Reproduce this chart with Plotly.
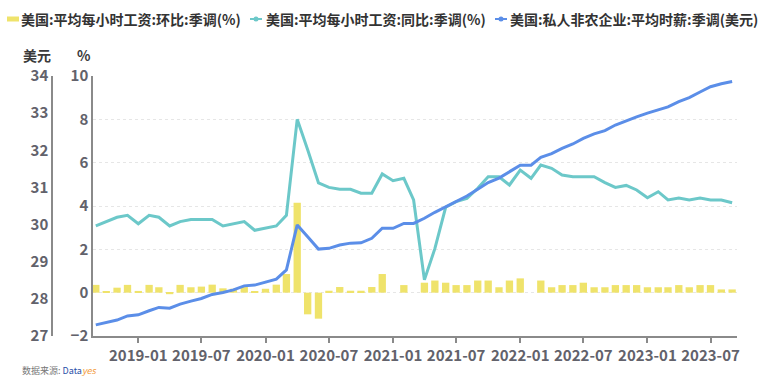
import pandas as pd
import plotly.graph_objects as go

months = pd.date_range("2018-09-01", periods=61, freq="MS")

mom = [0.36, 0.05, 0.23, 0.36, 0.08, 0.36, 0.25, -0.07, 0.36, 0.25,
       0.28, 0.37, 0.20, 0.18, 0.29, 0.06, 0.18, 0.37, 0.86, 4.15,
       -1.00, -1.20, 0.09, 0.26, 0.09, 0.09, 0.26, 0.86, 0.00, 0.35,
       0.00, 0.46, 0.56, 0.46, 0.35, 0.35, 0.56, 0.56, 0.25, 0.56,
       0.66, 0.00, 0.56, 0.25, 0.35, 0.35, 0.46, 0.25, 0.25, 0.35,
       0.35, 0.35, 0.25, 0.25, 0.25, 0.35, 0.25, 0.35, 0.35, 0.15,
       0.15]

yoy = [3.08, 3.28, 3.48, 3.57, 3.18, 3.57, 3.48, 3.08, 3.28, 3.38,
       3.38, 3.38, 3.08, 3.18, 3.28, 2.88, 2.97, 3.08, 3.57, 8.00,
       6.60, 5.07, 4.86, 4.77, 4.77, 4.59, 4.59, 5.48, 5.17, 5.28,
       4.28, 0.59, 2.03, 3.94, 4.20, 4.35, 4.82, 5.35, 5.35, 4.97,
       5.66, 5.28, 5.89, 5.74, 5.43, 5.35, 5.35, 5.35, 5.08, 4.86,
       4.95, 4.74, 4.38, 4.66, 4.28, 4.37, 4.28, 4.37, 4.28, 4.28,
       4.15]

wage = [27.30, 27.36, 27.43, 27.54, 27.57, 27.68, 27.77, 27.75, 27.86, 27.94,
        28.01, 28.12, 28.17, 28.24, 28.35, 28.37, 28.44, 28.53, 28.78, 29.99,
        29.67, 29.34, 29.36, 29.45, 29.50, 29.51, 29.63, 29.90, 29.90, 30.03,
        30.03, 30.17, 30.33, 30.48, 30.64, 30.77, 30.95, 31.13, 31.25, 31.42,
        31.60, 31.60, 31.81, 31.91, 32.05, 32.17, 32.32, 32.44, 32.53, 32.68,
        32.80, 32.90, 33.00, 33.09, 33.17, 33.31, 33.42, 33.57, 33.71, 33.79,
        33.85]

x_ticks = ["2019-01-01", "2019-07-01", "2020-01-01", "2020-07-01", "2021-01-01",
           "2021-07-01", "2022-01-01", "2022-07-01", "2023-01-01", "2023-07-01"]

names = ["美国:平均每小时工资:环比:季调(%)",
         "美国:平均每小时工资:同比:季调(%)",
         "美国:私人非农企业:平均时薪:季调(美元)"]

YELLOW = "#EFE36B"
TEAL = "#6CC8C9"
BLUE = "#5B8EE8"
FONT = "Noto Sans CJK SC"
TICKC = "#62626b"

W, H = 770, 385
ML, MR, MT, MB = 10, 33, 76, 49
PW = W - ML - MR
PH = H - MT - MB


def px(x):
    return (x - ML) / PW


def py(y):
    return (H - MB - y) / PH


fig = go.Figure()
fig.add_trace(go.Bar(x=months, y=mom, name=names[0], marker_color=YELLOW,
                     marker_line_width=0, yaxis="y"))
fig.add_trace(go.Scatter(x=months, y=yoy, name=names[1], mode="lines",
                         line=dict(color=TEAL, width=3), yaxis="y"))
fig.add_trace(go.Scatter(x=months, y=wage, name=names[2], mode="lines",
                         line=dict(color=BLUE, width=3), yaxis="y2"))

tickfont = dict(family=FONT, size=15, color=TICKC, weight="bold")

fig.update_layout(
    width=W, height=H,
    margin=dict(l=ML, r=MR, t=MT, b=MB),
    paper_bgcolor="white", plot_bgcolor="white",
    showlegend=False,
    bargap=0.25,
    font=dict(family=FONT),
    xaxis=dict(domain=[px(93), 1], type="date",
               range=["2018-08-24", "2023-09-15"],
               tickvals=x_ticks, tickformat="%Y-%m",
               ticks="outside", ticklen=5, tickcolor="#8a8a8a", tickwidth=1.5,
               showline=True, linecolor="#8a8a8a", linewidth=1.5,
               showgrid=False, tickfont=tickfont),
    yaxis=dict(range=[-2, 10], dtick=2, showline=True, linecolor="#8a8a8a",
               linewidth=1.5, showgrid=True, gridcolor="#e6e6e6", griddash="dot",
               zeroline=False, ticks="", tickfont=tickfont),
    yaxis2=dict(range=[27, 34], dtick=1, overlaying="y", side="left",
                anchor="free", position=px(52), showline=True,
                linecolor="#8a8a8a", linewidth=1.5, showgrid=False,
                zeroline=False, ticks="", tickfont=tickfont),
)

# axis unit titles
fig.add_annotation(x=px(53), y=py(55), xref="paper", yref="paper", text="美元",
                   showarrow=False, xanchor="right", yanchor="middle",
                   font=dict(family=FONT, size=14, color="#3a3a3a", weight="bold"))
fig.add_annotation(x=px(93), y=py(55), xref="paper", yref="paper", text="%",
                   showarrow=False, xanchor="right", yanchor="middle",
                   font=dict(family=FONT, size=14, color="#3a3a3a", weight="bold"))

# custom legend
ly = 19
fig.add_shape(type="rect", xref="paper", yref="paper",
              x0=px(7), x1=px(19), y0=py(ly + 2.5), y1=py(ly - 2.5),
              fillcolor=YELLOW, line_width=0)
for (x0, x1, c) in [(250, 262, TEAL), (495, 507, BLUE)]:
    fig.add_shape(type="line", xref="paper", yref="paper",
                  x0=px(x0), x1=px(x1), y0=py(ly), y1=py(ly),
                  line=dict(color=c, width=2))
    fig.add_shape(type="circle", xref="paper", yref="paper",
                  x0=px((x0 + x1) / 2 - 2.5), x1=px((x0 + x1) / 2 + 2.5),
                  y0=py(ly + 2.5), y1=py(ly - 2.5), fillcolor=c, line_width=0)
for tx, name in zip([21, 266, 510], names):
    fig.add_annotation(x=px(tx), y=py(ly), xref="paper", yref="paper", text=name,
                       showarrow=False, xanchor="left", yanchor="middle",
                       xshift=-2,
                       font=dict(family=FONT, size=14, color="#333333", weight="bold"))

# source note
fig.add_annotation(x=px(20), y=py(370), xref="paper", yref="paper",
                   text="数据来源: <span style='color:#2a4fa8'>Data</span><span style='color:#f39c3c'><i>yes</i></span>",
                   showarrow=False, xanchor="left", yanchor="middle",
                   font=dict(family=FONT, size=9, color="#777777"))

fig.write_html("out.html", config={"displayModeBar": False},
               post_script="document.body.style.margin='0';document.body.style.overflow='hidden';")
